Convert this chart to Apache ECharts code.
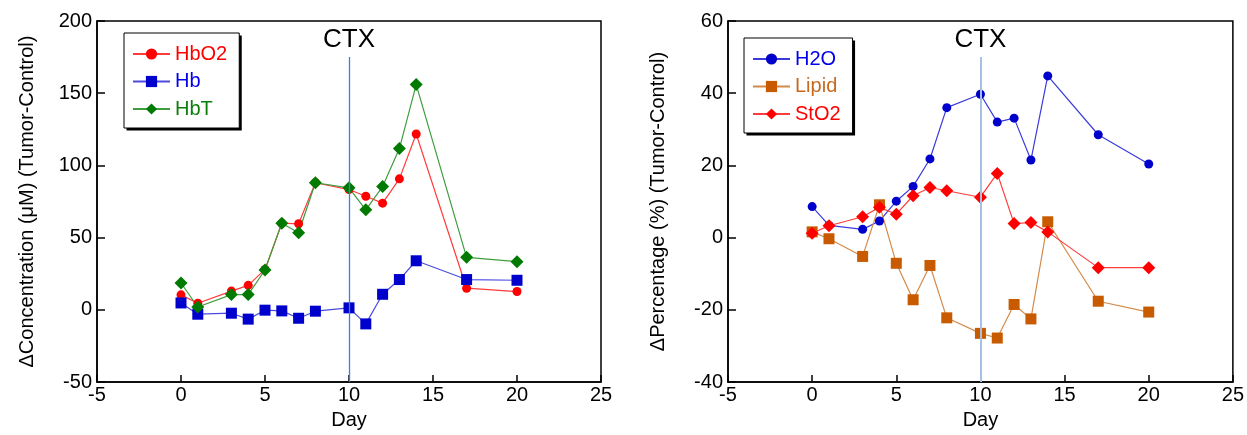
<!DOCTYPE html>
<html>
<head>
<meta charset="utf-8">
<script src="https://cdn.jsdelivr.net/npm/echarts@6/dist/echarts.min.js"></script>
<style>
html,body{margin:0;padding:0;background:#fff;}
#c{width:1247px;height:435px;}
</style>
</head>
<body>
<div id="c"></div>
<script>
// ---- data ----
const days = [0, 1, 3, 4, 5, 6, 7, 8, 10, 11, 12, 13, 14, 17, 20];
// left panel (ΔConcentration, µM)
const hbo2 = [10.4, 4.6, 13, 17, 28, 60, 59.6, 88, 83.3, 78.7, 73.9, 90.7, 121.8, 15, 12.7];
const hb   = [4.8, -3, -2.3, -6.4, -0.2, -0.7, -5.8, -0.9, 1.4, -9.7, 10.8, 21, 34, 21, 20.5];
const hbt  = [18.6, 2, 10.6, 10.6, 27.6, 60, 53.4, 88, 84.5, 69.3, 85.4, 111.7, 156, 36.4, 33.4];
// right panel (ΔPercentage, %)
const h2o   = [8.6, 3.4, 2.3, 4.6, 10.1, 14.2, 21.8, 36, 39.7, 32, 33.1, 21.5, 44.8, 28.5, 20.4];
const lipid = [1.6, -0.3, -5.2, 9.1, -7.1, -17.2, -7.7, -22.2, -26.5, -27.8, -18.5, -22.5, 4.4, -17.6, -20.6];
const sto2  = [1.2, 3.3, 5.8, 8.4, 6.5, 11.6, 13.9, 13, 11.2, 17.8, 3.9, 4.2, 1.6, -8.3, -8.3];
// axes
const xTicks = {min: -5, max: 25, step: 5};
const yLeft = {min: -50, max: 200, step: 50};
const yRight = {min: -40, max: 60, step: 20};
const ctxDay = 10;
const ctxTopLeft = 175, ctxTopRight = 50;

const pairs = (ys) => days.map((d, i) => [d, ys[i]]);
const FONT = 'Liberation Sans, Arial, sans-serif';

function xAxis(gi) {
  return {
    gridIndex: gi, type: 'value', min: xTicks.min, max: xTicks.max, interval: xTicks.step,
    name: 'Day', nameLocation: 'middle', nameGap: 26,
    nameTextStyle: {fontFamily: FONT, fontSize: 20, color: '#000'},
    axisLine: {show: true, onZero: false, lineStyle: {color: '#000', width: 1.5}},
    axisTick: {show: true, inside: true, length: 7, lineStyle: {color: '#000', width: 1.5}},
    axisLabel: {fontFamily: FONT, fontSize: 20, color: '#000', margin: 3},
    splitLine: {show: false}
  };
}
function yAxis(gi, r, name) {
  return {
    gridIndex: gi, type: 'value', min: r.min, max: r.max, interval: r.step,
    name: name, nameLocation: 'middle', nameGap: 60, nameRotate: 90,
    nameTextStyle: {fontFamily: FONT, fontSize: 20, color: '#000'},
    axisLine: {show: true, onZero: false, lineStyle: {color: '#000', width: 1.5}},
    axisTick: {show: true, inside: true, length: 8, lineStyle: {color: '#000', width: 1.5}},
    axisLabel: {fontFamily: FONT, fontSize: 20, color: '#000', margin: 5},
    splitLine: {show: false}
  };
}
function ser(name, data, gi, symbol, size, mColor, lColor) {
  return {
    name: name, type: 'line', xAxisIndex: gi, yAxisIndex: gi, data: pairs(data),
    symbol: symbol, symbolSize: size, showSymbol: true,
    itemStyle: {color: mColor},
    lineStyle: {color: lColor, width: 1.2},
    animation: false
  };
}
function ctxLine(top, ymin, color, width) {
  return {
    silent: true, symbol: 'none',
    lineStyle: {color: color, width: width, type: 'solid', opacity: 1},
    label: {show: true, position: 'start', formatter: 'CTX', fontFamily: FONT, fontSize: 26, color: '#000', distance: 4},
    data: [[{coord: [ctxDay, top]}, {coord: [ctxDay, ymin]}]]
  };
}
function legend(left, top, items, padRight) {
  return {
    left: left, top: top, orient: 'vertical', z: 10,
    backgroundColor: '#fff', borderColor: '#000', borderWidth: 1,
    padding: [10, padRight, 8, 8], itemGap: 5.5, itemWidth: 37, itemHeight: 14,
    textStyle: {fontFamily: FONT, fontSize: 20, lineHeight: 22},
    data: items.map(it => ({name: it[0], textStyle: {color: it[1]}}))
  };
}

const s1 = ser('HbO2', hbo2, 0, 'circle', 9, '#ff0000', '#ff3b3b');
const s2 = ser('Hb', hb, 0, 'rect', 11, '#0000cc', '#4b4bde');
const s3 = ser('HbT', hbt, 0, 'diamond', 13, '#007a00', '#3f9d3f');
s1.markLine = ctxLine(ctxTopLeft, yLeft.min, '#3d7fdc', 1.3);
const s4 = ser('H2O', h2o, 1, 'circle', 9, '#0000cc', '#3b3bdc');
const s5 = ser('Lipid', lipid, 1, 'rect', 11, '#c85a00', '#d38a4a');
const s6 = ser('StO2', sto2, 1, 'diamond', 13, '#ff0000', '#ff3b3b');
s4.markLine = ctxLine(ctxTopRight, yRight.min, '#a6c1e4', 2);

const chart = echarts.init(document.getElementById('c'), null, {renderer: 'canvas'});
chart.setOption({
  animation: false,
  backgroundColor: '#fff',
  grid: [
    {left: 97, right: 646, top: 21, bottom: 52, show: true, borderColor: '#000', borderWidth: 1.5, backgroundColor: 'transparent'},
    {left: 728, right: 14, top: 21, bottom: 52, show: true, borderColor: '#000', borderWidth: 1.5, backgroundColor: 'transparent'}
  ],
  legend: [
    legend(124, 33, [['HbO2', '#ff0000'], ['Hb', '#0000ee'], ['HbT', '#0a7f0a']], 12),
    legend(744, 38, [['H2O', '#0000ee'], ['Lipid', '#c86a1e'], ['StO2', '#ff0000']], 12)
  ],
  xAxis: [xAxis(0), xAxis(1)],
  yAxis: [yAxis(0, yLeft, 'ΔConcentration (μM) (Tumor-Control)'), yAxis(1, yRight, 'ΔPercentage (%) (Tumor-Control)')],
  series: [s1, s2, s3, s4, s5, s6]
});

// drop shadow behind each legend box (bottom-right, solid black)
try {
  const shadows = [];
  [0, 1].forEach(i => {
    const lm = chart.getModel().getComponent('legend', i);
    const view = chart.getViewOfComponentModel(lm);
    const g = view.group;
    const r = g.getBoundingRect();
    shadows.push({
      type: 'rect', z: 5, silent: true,
      shape: {x: g.x + r.x + 3, y: g.y + r.y + 3, width: r.width - 1, height: r.height - 1},
      style: {fill: '#000'}
    });
  });
  chart.setOption({graphic: shadows});
} catch (e) {}
</script>
</body>
</html>
